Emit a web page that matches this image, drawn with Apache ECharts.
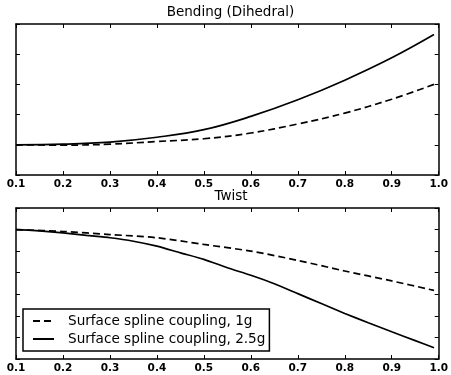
<!DOCTYPE html>
<html>
<head>
<meta charset="utf-8">
<style>html,body{margin:0;padding:0;background:#fff}#c{width:451px;height:375px}</style>
<script src="https://cdn.jsdelivr.net/npm/echarts@6/dist/echarts.min.js"></script>
</head>
<body>
<div id="c"></div>
<script>
// ---- data ----
const seriesNames = ['Surface spline coupling, 1g', 'Surface spline coupling, 2.5g'];
const titles = ['Bending (Dihedral)', 'Twist'];
const bendX = [0.1, 0.2, 0.3, 0.4, 0.5, 0.6, 0.7, 0.8, 0.9, 0.99];
const bend1g = [1.0, 0.99, 1.02, 1.11, 1.20, 1.39, 1.69, 2.05, 2.51, 3.0];
const bend25g = [1.0, 1.02, 1.09, 1.25, 1.50, 1.94, 2.49, 3.14, 3.88, 4.65];
const twist1gX = [0.1, 0.2, 0.3, 0.4, 0.5, 0.6, 0.7, 0.8, 0.9, 0.99];
const twist1g = [0, -0.09, -0.23, -0.38, -0.69, -1.0, -1.43, -1.92, -2.38, -2.82];
const twist25gX = [0.1, 0.15, 0.2, 0.25, 0.3, 0.35, 0.4, 0.45, 0.5, 0.55, 0.6, 0.65, 0.7, 0.75, 0.8, 0.85, 0.9, 0.95, 0.99];
const twist25g = [0, -0.06, -0.15, -0.27, -0.38, -0.54, -0.77, -1.08, -1.38, -1.77, -2.12, -2.51, -2.97, -3.43, -3.89, -4.32, -4.74, -5.15, -5.48];
const xRange = {min: 0.1, max: 1.0, interval: 0.1};
const bendRange = {min: 0, max: 5, interval: 1};
const twistRange = {min: -6, max: 1, interval: 1};

const pairs = (xs, ys) => xs.map((x, i) => [x, ys[i]]);
const FONT = 'DejaVu Sans';
const axisLine = {show: true, onZero: false, lineStyle: {color: '#000', width: 1.5}};
const tick = {show: true, inside: true, length: 4, lineStyle: {color: '#000', width: 1}};

function xAxis(grid, pos, labels) {
  return {
    type: 'value', gridIndex: grid, position: pos,
    min: xRange.min, max: xRange.max, interval: xRange.interval,
    axisLine, axisTick: tick, splitLine: {show: false},
    axisLabel: {show: labels, margin: 4, color: '#000', fontFamily: FONT, fontSize: 10.5, fontWeight: 'bold',
      formatter: v => v.toFixed(1)}
  };
}
function yAxis(grid, pos, r) {
  return {
    type: 'value', gridIndex: grid, position: pos,
    min: r.min, max: r.max, interval: r.interval,
    axisLine, axisTick: tick, splitLine: {show: false}, axisLabel: {show: false}
  };
}
const dashed = {color: '#000', width: 1.7, type: [7, 4]};
const solid = {color: '#000', width: 1.7, type: 'solid'};

const option = {
  animation: false,
  backgroundColor: '#fff',
  title: [
    {text: titles[0], left: 230.5, top: 5, textAlign: 'center', padding: 0,
     textStyle: {fontFamily: FONT, fontSize: 13.5, fontWeight: 'normal', color: '#000'}},
    {text: titles[1], left: 231, top: 189, textAlign: 'center', padding: 0,
     textStyle: {fontFamily: FONT, fontSize: 13.5, fontWeight: 'normal', color: '#000'}}
  ],
  grid: [
    {left: 16, right: 6, top: 24, height: 151},
    {left: 16, right: 6, top: 208, height: 151}
  ],
  xAxis: [xAxis(0, 'bottom', true), xAxis(0, 'top', false), xAxis(1, 'bottom', true), xAxis(1, 'top', false)],
  yAxis: [yAxis(0, 'left', bendRange), yAxis(0, 'right', bendRange), yAxis(1, 'left', twistRange), yAxis(1, 'right', twistRange)],
  legend: {
    data: seriesNames, orient: 'vertical', left: 23, top: 309,
    itemWidth: 21, itemHeight: 14, itemGap: 4,
    padding: [5, 4, 5, 9],
    itemStyle: {opacity: 0, borderWidth: 0},
    backgroundColor: '#fff', borderColor: '#000', borderWidth: 1.5, borderRadius: 0,
    textStyle: {fontFamily: FONT, fontSize: 13.6, color: '#000', padding: [0, 0, 0, 9]}
  },
  series: [
    {name: seriesNames[0], type: 'line', xAxisIndex: 0, yAxisIndex: 0, data: pairs(bendX, bend1g),
     symbol: 'none', smooth: 0.4, lineStyle: dashed, itemStyle: {color: '#000'}},
    {name: seriesNames[1], type: 'line', xAxisIndex: 0, yAxisIndex: 0, data: pairs(bendX, bend25g),
     symbol: 'none', smooth: 0.4, lineStyle: solid, itemStyle: {color: '#000'}},
    {name: seriesNames[0], type: 'line', xAxisIndex: 2, yAxisIndex: 2, data: pairs(twist1gX, twist1g),
     symbol: 'none', smooth: 0.3, lineStyle: dashed, itemStyle: {color: '#000'}},
    {name: seriesNames[1], type: 'line', xAxisIndex: 2, yAxisIndex: 2, data: pairs(twist25gX, twist25g),
     symbol: 'none', smooth: 0.2, lineStyle: solid, itemStyle: {color: '#000'}}
  ]
};
echarts.init(document.getElementById('c'), null, {renderer: 'canvas'}).setOption(option);
</script>
</body>
</html>
